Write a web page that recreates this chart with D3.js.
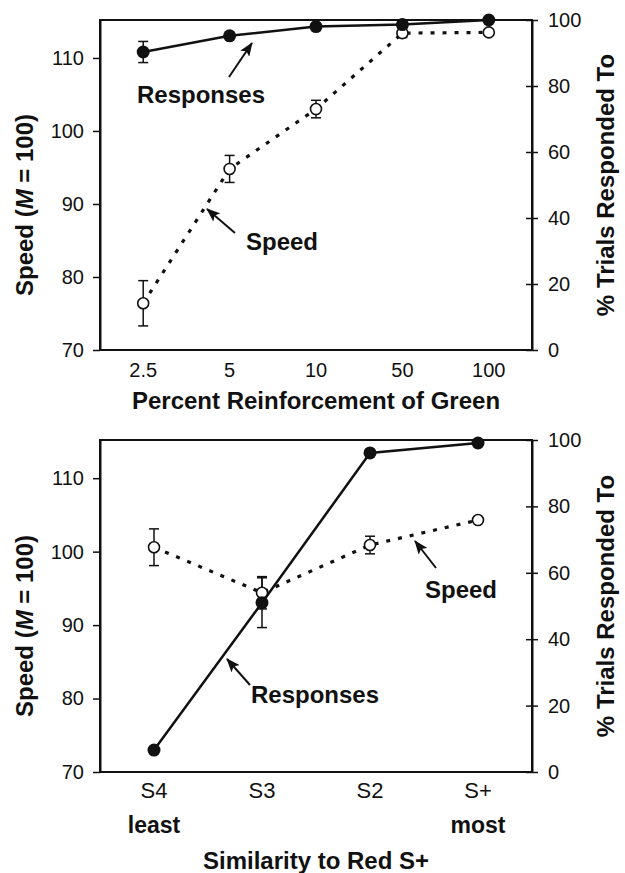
<!DOCTYPE html>
<html>
<head>
<meta charset="utf-8">
<script src="https://cdn.jsdelivr.net/npm/d3@7"></script>
<style>
  html, body { margin: 0; padding: 0; background: #fff; }
  svg { display: block; }
  text { font-family: "Liberation Sans", Arial, Helvetica, sans-serif; fill: #111; }
</style>
</head>
<body>
<svg id="chart" width="625" height="873"></svg>
<script>
// Panel A: percent reinforcement of green
const reinforcementLevels = ["2.5", "5", "10", "50", "100"];
const speedByReinforcement = [76.4, 94.8, 103.0, 113.4, 113.5];
const speedErrByReinforcement = [3.1, 1.85, 1.2, 0.6, 0.4];
const responsesByReinforcement = [90.3, 95.2, 98.0, 98.6, 100];
const responsesErrByReinforcement = [3.2, 0, 0, 0, 0];

// Panel B: similarity to red S+
const similarityLevels = ["S4", "S3", "S2", "S+"];
const similarityExtremes = ["least", "", "", "most"];
const speedBySimilarity = [100.6, 94.4, 100.9, 104.3];
const speedErrBySimilarity = [2.5, 2.2, 1.2, 0.4];
const responsesBySimilarity = [6.6, 51, 96.1, 99.1];
const responsesErrBySimilarity = [0, 7.5, 0, 0];

// Axis ticks
const speedTicks = [70, 80, 90, 100, 110];
const percentTicks = [0, 20, 40, 60, 80, 100];

const svg = d3.select("#chart");
const FONT = "'Liberation Sans', Arial, Helvetica, sans-serif";
const BOLD_SIZE = 24;
const TICK_SIZE = 20;

svg.append("defs").append("marker")
  .attr("id", "arrowhead")
  .attr("viewBox", "0 0 14 11")
  .attr("refX", 13).attr("refY", 5.5)
  .attr("markerWidth", 14).attr("markerHeight", 11)
  .attr("markerUnits", "userSpaceOnUse")
  .attr("orient", "auto")
  .append("path").attr("d", "M0,0 L14,5.5 L0,11 L3,5.5 Z").attr("fill", "#111");

function drawPanel(cfg) {
  const left = 100, right = 532;
  const top = cfg.top, bottom = cfg.bottom;
  const g = svg.append("g");

  const x = d3.scalePoint().domain(cfg.categories).range([left, right]).padding(0.5);
  const ySpeed = d3.scaleLinear().domain([70, 115.2]).range([bottom, top]);
  const yPct = d3.scaleLinear().domain([0, 100]).range([bottom, top]);

  // frame
  g.append("rect")
    .attr("x", left).attr("y", top)
    .attr("width", right - left).attr("height", bottom - top)
    .attr("fill", "none").attr("stroke", "#111").attr("stroke-width", 2);

  // left axis: speed
  const leftAxis = g.append("g")
    .attr("transform", `translate(${left},0)`)
    .call(d3.axisLeft(ySpeed).tickValues(speedTicks).tickSize(7).tickPadding(9).tickSizeOuter(0));
  leftAxis.select(".domain").attr("stroke", "#111").attr("stroke-width", 2);
  leftAxis.selectAll(".tick line").attr("stroke", "#111").attr("stroke-width", 1.5);
  leftAxis.selectAll(".tick text").attr("font-size", TICK_SIZE).attr("font-family", FONT).attr("fill", "#111");

  // right axis: percent responded, ticks crossing the spine
  const rightAxis = g.append("g")
    .attr("transform", `translate(${right},0)`)
    .call(d3.axisRight(yPct).tickValues(percentTicks).tickSize(6).tickPadding(10).tickSizeOuter(0));
  rightAxis.select(".domain").attr("stroke", "#111").attr("stroke-width", 2);
  rightAxis.selectAll(".tick line").attr("x1", -6).attr("stroke", "#111").attr("stroke-width", 1.5);
  rightAxis.selectAll(".tick text").attr("font-size", TICK_SIZE).attr("font-family", FONT).attr("fill", "#111");

  // category labels
  g.selectAll(".cat").data(cfg.categories).join("text")
    .attr("x", d => x(d)).attr("y", cfg.catBaseline)
    .attr("text-anchor", "middle").attr("font-size", cfg.catSize)
    .text(d => d);
  if (cfg.extremes) {
    g.selectAll(".ext").data(cfg.categories).join("text")
      .attr("x", d => x(d)).attr("y", cfg.catBaseline + 35)
      .attr("text-anchor", "middle").attr("font-size", BOLD_SIZE - 1).attr("font-weight", "bold")
      .text((d, i) => cfg.extremes[i]);
  }

  // axis titles
  g.append("text")
    .attr("x", (left + right) / 2).attr("y", cfg.titleBaseline)
    .attr("text-anchor", "middle").attr("font-size", BOLD_SIZE).attr("font-weight", "bold")
    .text(cfg.xTitle);

  const ltitle = g.append("text")
    .attr("transform", `translate(33,${(top + bottom) / 2 + 20}) rotate(-90)`)
    .attr("text-anchor", "middle").attr("font-size", BOLD_SIZE).attr("font-weight", "bold");
  ltitle.append("tspan").text("Speed (");
  ltitle.append("tspan").attr("font-style", "italic").text("M");
  ltitle.append("tspan").text(" = 100)");

  g.append("text")
    .attr("transform", `translate(614,${(top + bottom) / 2}) rotate(-90)`)
    .attr("text-anchor", "middle").attr("font-size", BOLD_SIZE).attr("font-weight", "bold")
    .text("% Trials Responded To");

  const speedPts = cfg.categories.map((c, i) => ({ c, v: cfg.speed[i], e: cfg.speedErr[i] }));
  const respPts = cfg.categories.map((c, i) => ({ c, v: cfg.resp[i], e: cfg.respErr[i] }));

  // speed: dotted line
  g.append("path")
    .datum(speedPts)
    .attr("d", d3.line().x(d => x(d.c)).y(d => ySpeed(d.v)))
    .attr("fill", "none").attr("stroke", "#111").attr("stroke-width", 3.2)
    .attr("stroke-dasharray", "4,8");

  // responses: solid line
  g.append("path")
    .datum(respPts)
    .attr("d", d3.line().x(d => x(d.c)).y(d => yPct(d.v)))
    .attr("fill", "none").attr("stroke", "#111").attr("stroke-width", 2.5);

  // error bars
  function errorBars(pts, y) {
    const eb = g.append("g").selectAll("g").data(pts.filter(d => d.e > 0)).join("g")
      .attr("stroke", "#111").attr("stroke-width", 1.5);
    eb.append("line")
      .attr("x1", d => x(d.c)).attr("x2", d => x(d.c))
      .attr("y1", d => y(d.v - d.e)).attr("y2", d => y(d.v + d.e));
    eb.append("line")
      .attr("x1", d => x(d.c) - 5).attr("x2", d => x(d.c) + 5)
      .attr("y1", d => y(d.v + d.e)).attr("y2", d => y(d.v + d.e));
    eb.append("line")
      .attr("x1", d => x(d.c) - 5).attr("x2", d => x(d.c) + 5)
      .attr("y1", d => y(d.v - d.e)).attr("y2", d => y(d.v - d.e));
  }
  errorBars(speedPts, ySpeed);
  errorBars(respPts, yPct);

  // markers
  g.append("g").selectAll("circle").data(speedPts).join("circle")
    .attr("cx", d => x(d.c)).attr("cy", d => ySpeed(d.v)).attr("r", 5.5)
    .attr("fill", "#fff").attr("stroke", "#111").attr("stroke-width", 1.6);
  g.append("g").selectAll("circle").data(respPts).join("circle")
    .attr("cx", d => x(d.c)).attr("cy", d => yPct(d.v)).attr("r", 6.5)
    .attr("fill", "#111");

  // callouts
  cfg.notes.forEach(n => {
    g.append("line")
      .attr("x1", n.from[0]).attr("y1", n.from[1])
      .attr("x2", n.to[0]).attr("y2", n.to[1])
      .attr("stroke", "#111").attr("stroke-width", 2)
      .attr("marker-end", "url(#arrowhead)");
    g.append("text")
      .attr("x", n.at[0]).attr("y", n.at[1])
      .attr("font-size", BOLD_SIZE).attr("font-weight", "bold")
      .text(n.label);
  });
}

drawPanel({
  top: 20, bottom: 350,
  categories: reinforcementLevels,
  speed: speedByReinforcement, speedErr: speedErrByReinforcement,
  resp: responsesByReinforcement, respErr: responsesErrByReinforcement,
  catBaseline: 377, catSize: TICK_SIZE,
  titleBaseline: 409,
  xTitle: "Percent Reinforcement of Green",
  notes: [
    { label: "Responses", at: [137, 103], from: [229, 77], to: [252, 43] },
    { label: "Speed", at: [246, 250], from: [235, 233], to: [207, 209] }
  ]
});

drawPanel({
  top: 440, bottom: 772,
  categories: similarityLevels,
  extremes: similarityExtremes,
  speed: speedBySimilarity, speedErr: speedErrBySimilarity,
  resp: responsesBySimilarity, respErr: responsesErrBySimilarity,
  catBaseline: 798, catSize: 22,
  titleBaseline: 869,
  xTitle: "Similarity to Red S+",
  notes: [
    { label: "Responses", at: [251, 703], from: [250, 685], to: [227, 659] },
    { label: "Speed", at: [425, 598], from: [436, 568], to: [415, 541] }
  ]
});
</script>
</body>
</html>
